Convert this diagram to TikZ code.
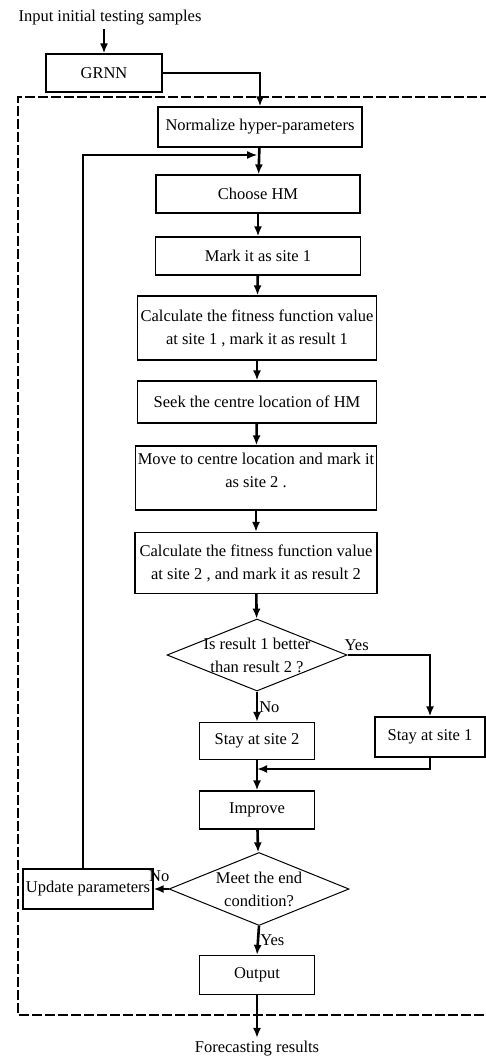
\documentclass[tikz,border=0pt]{standalone}
\usepackage{fontspec}
\setmainfont{Liberation Serif}
\usetikzlibrary{arrows.meta,positioning,shapes.geometric}

\begin{document}
\begin{tikzpicture}
            [x=1pt,y=-1pt,
             every node/.style={font=\fontsize{16.5}{23}\selectfont},
             box/.style={draw,line width=1.2pt,align=center,inner sep=2pt,minimum height=40pt},
             cond/.style={diamond,draw,line width=1pt,inner sep=0pt,minimum width=180pt,minimum height=72pt},
             arr/.style={line width=2.6pt,-{Latex[length=10pt,width=8pt]}},
             fb/.style={line width=1.3pt,-{Latex[length=10pt,width=8pt]}},
             frame/.style={line width=2.6pt,dash pattern=on 10pt off 3pt}]
            \useasboundingbox (0,0) rectangle (486,1057);

            % nodes of the flow
            \node[anchor=west] (in) at (15,18) {Input initial testing samples};
            \node[box,minimum width=116pt,minimum height=38pt] (grnn) at (104,73) {GRNN};
            \node[box,minimum width=204pt] (norm) at (260,127) {Normalize hyper-parameters};
            \node[box,minimum width=204pt,minimum height=38pt] (hm) at (258,194) {Choose HM};
            \node[box,minimum width=205pt,minimum height=38pt] (site1) at (258,256) {Mark it as site 1};
            \node[box,minimum width=239pt,minimum height=64pt] (calc1) at (257,328) {Calculate the fitness function value\\at site 1 , mark it as result 1};
            \node[box,minimum width=239pt,minimum height=42pt] (seek) at (257,402) {Seek the centre location of HM};
            \node[box,minimum width=238pt,minimum height=64pt] (move) at (256,478) {Move to centre location and mark it\\as site 2 .\\[-8pt]\mbox{}};
            \node[box,minimum width=242pt,minimum height=61pt] (calc2) at (256,563) {Calculate the fitness function value\\at site 2 , and mark it as result 2};
            \node[cond] (dec1) at (257,655) {};
            \node[align=center,inner sep=0pt] (q1) at (dec1) {Is result 1 better\\than result 2 ?};
            \node[box,minimum width=115pt,minimum height=37pt] (stay2) at (257,741) {Stay at site 2};
            \node[box,minimum width=110pt,minimum height=40pt] (stay1) at (430,737) {Stay at site 1};
            \node[box,minimum width=115pt,minimum height=38pt] (imp) at (257,810) {Improve};
            \node[cond,minimum height=73pt] (dec2) at (259,889) {};
            \node[align=center,inner sep=0pt] (q2) at (dec2) {Meet the end\\condition?};
            \node[box,minimum width=130pt,minimum height=40pt] (upd) at (88,889) {Update parameters};
            \node[box,minimum width=115pt,minimum height=39pt] (out) at (257,975) {Output};
            \node (fc) at (257,1049) {Forecasting results};

            % dashed frame
            \draw[frame] (490,97) -- (18,97) -- (18,1015) -- (490,1015);

            \coordinate (j1) at (257,155);
            \coordinate (j2) at (257,769);

            \draw[arr] (grnn.north |- in.south) -- (grnn.north);
            \draw[arr] (grnn.east) -| (norm.north);
            \draw[arr] (norm) -- (hm);
            \foreach \a/\b in {hm/site1,site1/calc1,calc1/seek,seek/move,move/calc2,calc2/dec1}
                \draw[arr] (\a) -- (\b);
            \draw[arr] (dec1.east) -| (stay1.north);
            \node[anchor=south west,inner sep=1pt,xshift=-4pt,yshift=3pt] at (dec1.east) {Yes};
            \draw[arr] (dec1.south) -- node[right,inner sep=1pt] {No} (stay2.north);
            \draw[arr] (stay1.south) |- (j2);
            \draw[arr] (stay2) -- (imp);
            \draw[arr] (imp) -- (dec2);
            \draw[arr] (dec2.west) -- (upd.east);
            \node[anchor=south east,inner sep=1pt,xshift=2pt,yshift=6pt] at (dec2.west) {No};
            \draw[arr] (dec2.south) -- node[right,inner sep=1pt] {Yes} (out.north);
            \draw[arr] (out) -- (fc);
            \draw[fb] (upd.north -| 83,0) |- (j1);
        \end{tikzpicture}
\end{document}
